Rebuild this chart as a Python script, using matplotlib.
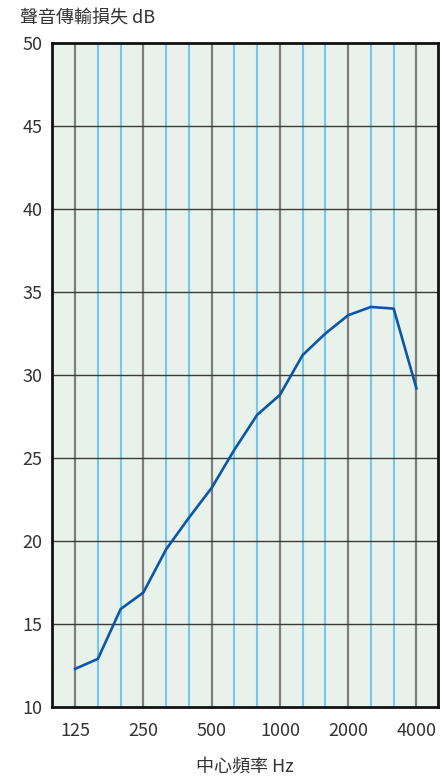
import matplotlib.pyplot as plt
import numpy as np

plt.rcParams['font.family'] = ['Noto Sans CJK TC', 'DejaVu Sans']

# 1/3 octave band centre frequencies and transmission loss
bands = [125, 160, 200, 250, 315, 400, 500, 630, 800, 1000, 1250, 1600, 2000, 2500, 3150, 4000]
loss_db = [12.3, 12.9, 15.9, 16.9, 19.5, 21.4, 23.2, 25.5, 27.6, 28.8, 31.2, 32.5, 33.6, 34.1, 34.0, 29.2]
octave_labels = ['125', '250', '500', '1000', '2000', '4000']
y_ticks = [10, 15, 20, 25, 30, 35, 40, 45, 50]

x = np.arange(len(bands))
octave_idx = [bands.index(int(s)) for s in octave_labels]
third_idx = [i for i in x if i not in octave_idx]

fig = plt.figure(figsize=(4.4, 7.79), dpi=100)
ax = fig.add_axes([0.118, 0.0924, 0.8775, 0.8524])
ax.set_facecolor('#e9f2ea')

# grid: grey at octaves, light blue at third-octaves, dark horizontal every 5 dB
for i in third_idx:
    ax.axvline(i, color='#74c8ef', lw=1.5, zorder=1)
for i in octave_idx:
    ax.axvline(i, color='#7d7d7d', lw=1.6, zorder=1)
for yv in y_ticks[1:-1]:
    ax.axhline(yv, color='#3a3a3a', lw=1.0, zorder=1)

ax.plot(x, loss_db, color='#0b56a6', lw=1.9, zorder=3, solid_joinstyle='round')

ax.set_xlim(-1.02, 15.95)
ax.set_ylim(10, 50)
ax.set_xticks(octave_idx)
ax.set_xticklabels(octave_labels)
ax.set_yticks(y_ticks)
ax.tick_params(axis='x', length=0, pad=11, labelsize=13, colors='#333333')
ax.tick_params(axis='y', length=0, pad=7, labelsize=13, colors='#333333')

for s in ax.spines.values():
    s.set_linewidth(2.0)
    s.set_color('#111111')

fig.text(0.045, 0.976, '聲音傳輸損失 dB', fontsize=13, color='#333333', ha='left', va='center')
fig.text(0.557, 0.015, '中心頻率 Hz', fontsize=13, color='#333333', ha='center', va='center')

fig.savefig('out.png', dpi=100)
